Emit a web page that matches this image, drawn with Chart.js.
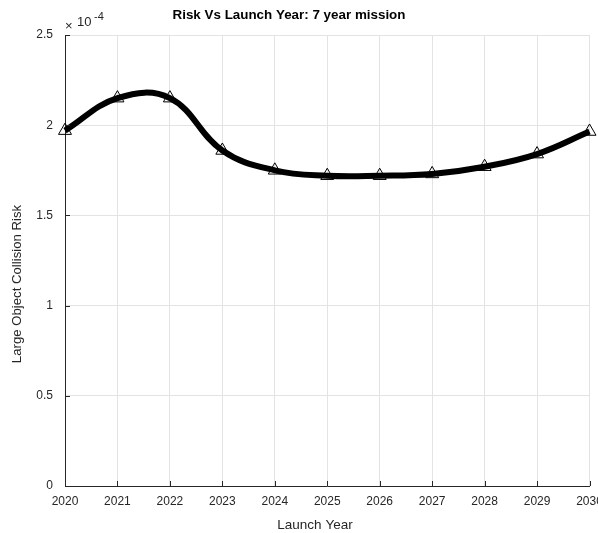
<!DOCTYPE html>
<html>
<head>
<meta charset="utf-8">
<script src="https://cdn.jsdelivr.net/npm/chart.js@4"></script>
<style>
    html, body { margin: 0; padding: 0; background: #fff; }
    #wrap { width: 598px; height: 533px; }
</style>
</head>
<body>
<div id="wrap"><canvas id="riskChart"></canvas></div>
<script>
// launch years and risk values (x 1e-4)
const launchYears = [2020, 2021, 2022, 2023, 2024, 2025, 2026, 2027, 2028, 2029, 2030];
const riskValues = [1.97, 2.15, 2.15, 1.86, 1.75, 1.72, 1.72, 1.73, 1.77, 1.84, 1.965];
const yTicks = [0, 0.5, 1, 1.5, 2, 2.5];

const titleText = 'Risk Vs Launch Year: 7 year mission';
const xLabel = 'Launch Year';
const yLabel = 'Large Object Collision Risk';
const font = '"Liberation Sans", Arial, Helvetica, sans-serif';
const axisColor = '#262626';
const gridColor = '#e3e3e3';

// title, axis labels, exponent and inward tick marks like matlab
const extrasPlugin = {
    id: 'extras',
    afterDraw(chart) {
        const ctx = chart.ctx;
        const x = chart.scales.x;
        const y = chart.scales.y;
        const area = chart.chartArea;

        ctx.save();
        ctx.strokeStyle = axisColor;
        ctx.lineWidth = 1;
        ctx.beginPath();
        launchYears.forEach(v => {
            const px = Math.round(x.getPixelForValue(v)) + 0.5;
            ctx.moveTo(px, area.bottom);
            ctx.lineTo(px, area.bottom - 5);
        });
        yTicks.forEach(v => {
            const py = Math.round(y.getPixelForValue(v)) + 0.5;
            ctx.moveTo(area.left, py);
            ctx.lineTo(area.left + 5, py);
        });
        ctx.stroke();

        ctx.textBaseline = 'middle';
        ctx.textAlign = 'center';
        ctx.fillStyle = '#000';
        ctx.font = 'bold 13.4px ' + font;
        ctx.fillText(titleText, 289, 15);

        ctx.fillStyle = axisColor;
        ctx.font = '13.5px ' + font;
        ctx.fillText(xLabel, 315, 525);

        ctx.save();
        ctx.translate(17, 284);
        ctx.rotate(-Math.PI / 2);
        ctx.font = '13.2px ' + font;
        ctx.fillText(yLabel, 0, 0);
        ctx.restore();

        ctx.textAlign = 'left';
        ctx.font = '13px ' + font;
        ctx.fillText('\u00d7', 65, 26);
        ctx.fillText('10', 77, 22);
        ctx.font = '11px ' + font;
        ctx.fillText('-4', 94, 17);
        ctx.restore();
    }
};

const ctx = document.getElementById('riskChart').getContext('2d');

const riskChart = new Chart(ctx, {
    type: 'line',
    data: {
        datasets: [{
            label: 'Risk',
            data: launchYears.map((yr, i) => ({ x: yr, y: riskValues[i] })),
            borderColor: '#000',
            borderWidth: 6,
            tension: 0.4,
            pointStyle: 'triangle',
            pointRadius: 7.5,
            pointBorderWidth: 1,
            pointBorderColor: '#000',
            pointBackgroundColor: 'rgba(255,255,255,0)',
            clip: 8
        }]
    },
    options: {
        responsive: true,
        maintainAspectRatio: false,
        animation: false,
        layout: { padding: { top: 35, right: 6.5, left: 0, bottom: 0 } },
        plugins: {
            legend: { display: false },
            tooltip: { enabled: false }
        },
        scales: {
            x: {
                type: 'linear',
                min: 2020,
                max: 2030,
                afterBuildTicks: (scale) => {
                    scale.ticks = launchYears.map(v => ({ value: v }));
                },
                afterFit: (scale) => {
                    scale.height = 47;
                    scale.paddingLeft = 0;
                    scale.paddingRight = 0;
                },
                ticks: {
                    color: axisColor,
                    font: { family: font, size: 12 },
                    padding: 8,
                    maxRotation: 0,
                    callback: (v) => String(v)
                },
                grid: { color: gridColor, tickLength: 0 },
                border: { color: axisColor, width: 1 }
            },
            y: {
                min: 0,
                max: 2.5,
                afterBuildTicks: (scale) => {
                    scale.ticks = yTicks.map(v => ({ value: v }));
                },
                afterFit: (scale) => {
                    scale.width = 65;
                    scale.paddingTop = 0;
                    scale.paddingBottom = 0;
                },
                ticks: {
                    color: axisColor,
                    font: { family: font, size: 12 },
                    padding: 12,
                    callback: (v) => String(v)
                },
                grid: { color: gridColor, tickLength: 0 },
                border: { color: axisColor, width: 1 }
            }
        }
    },
    plugins: [extrasPlugin]
});
</script>
</body>
</html>
